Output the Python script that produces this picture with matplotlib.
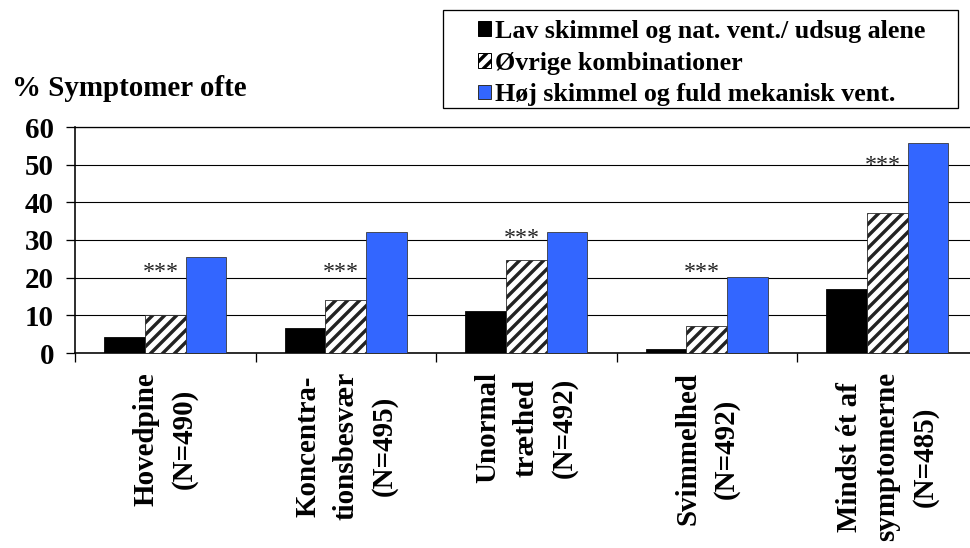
import matplotlib
matplotlib.use("Agg")
import matplotlib.pyplot as plt
from matplotlib.patches import Patch, Rectangle
import numpy as np

# data
categories = ["Hovedpine\n(N=490)",
              "Koncentra-\ntionsbesvær\n(N=495)",
              "Unormal\ntræthed\n(N=492)",
              "Svimmelhed\n(N=492)",
              "Mindst ét af\nsymptomerne\n(N=485)"]
lav = [4.3, 6.7, 11.1, 1.1, 17.0]
oevrige = [10.0, 14.2, 24.6, 7.3, 37.3]
hoej = [25.4, 32.0, 32.0, 20.2, 55.8]
series_names = ["Lav skimmel og nat. vent./ udsug alene",
                "Øvrige kombinationer",
                "Høj skimmel og fuld mekanisk vent."]
star_level = [22.8, 22.8, 31.8, 22.8, 51.2]
yticks = [0, 10, 20, 30, 40, 50, 60]

BLUE = "#3366FF"
SERIF = "Liberation Serif"
DPI = 72

plt.rcParams["hatch.linewidth"] = 3.4
plt.rcParams["font.family"] = [SERIF, "DejaVu Serif"]


def px(p):
    # pixel size -> points at this dpi
    return p * 72.0 / DPI


fig = plt.figure(figsize=(970 / DPI, 548 / DPI), dpi=DPI)
ax = fig.add_axes([75 / 970, 195 / 548, 902.5 / 970, 226 / 548])

x = np.arange(len(categories))
w = 0.225

ax.bar(x - w, lav, w, color="black", edgecolor="black", linewidth=0.8, zorder=3)
ax.bar(x, oevrige, w, color="white", edgecolor="#222222", hatch="//", linewidth=0.8, zorder=3)
ax.bar(x + w, hoej, w, color=BLUE, edgecolor="#333333", linewidth=0.8, zorder=3)

for i, lvl in enumerate(star_level):
    ax.text(x[i] - 0.025, lvl - 2.8, "***", ha="center", va="baseline",
            fontsize=px(24), color="#222222", zorder=4)

ax.set_xlim(-0.5, len(categories) - 0.5)
ax.set_ylim(0, 60)
ax.set_yticks(yticks)
ax.set_yticklabels([str(t) for t in yticks], fontsize=px(29), fontweight="bold")
ax.yaxis.grid(True, color="black", linewidth=1.1, zorder=0)
ax.set_axisbelow(True)

# group separators as major ticks, labels on minor ticks
ax.set_xticks(np.arange(-0.5, len(categories), 1.0))
ax.set_xticklabels([])
ax.set_xticks(x, minor=True)
ax.set_xticklabels(categories, minor=True, rotation=90, fontsize=px(29),
                   fontweight="bold", ha="center", va="top",
                   multialignment="center", linespacing=1.52)
ax.tick_params(axis="x", which="major", direction="out", length=px(9), width=1.3)
ax.tick_params(axis="x", which="minor", length=0, pad=px(19))
ax.tick_params(axis="y", direction="out", length=px(9), width=1.3, pad=px(12))

ax.spines["right"].set_visible(False)
ax.spines["top"].set_linewidth(1.3)
ax.spines["left"].set_linewidth(1.6)
ax.spines["bottom"].set_linewidth(1.6)

fig.text(12 / 970, 1 - 88 / 548, "% Symptomer ofte", ha="left", va="center",
         fontsize=px(29), fontweight="bold")

handles = [Patch(facecolor="black", edgecolor="black"),
           Patch(facecolor="white", edgecolor="black", hatch="//"),
           Patch(facecolor=BLUE, edgecolor="#333333")]
fig.legend(handles, series_names, loc="upper left",
           bbox_to_anchor=(478 / 970, 1 - 20 / 548), frameon=False,
           borderpad=0, borderaxespad=0, handlelength=0.5, handleheight=0.5,
           handletextpad=0.15, labelspacing=0.33,
           prop={"family": SERIF, "weight": "bold", "size": px(26)})
fig.patches.append(Rectangle((443 / 970, 1 - 108 / 548), 515 / 970, 98 / 548,
                             transform=fig.transFigure, fill=False,
                             edgecolor="black", linewidth=1.3))

fig.savefig("out.png", dpi=DPI, facecolor="white")
